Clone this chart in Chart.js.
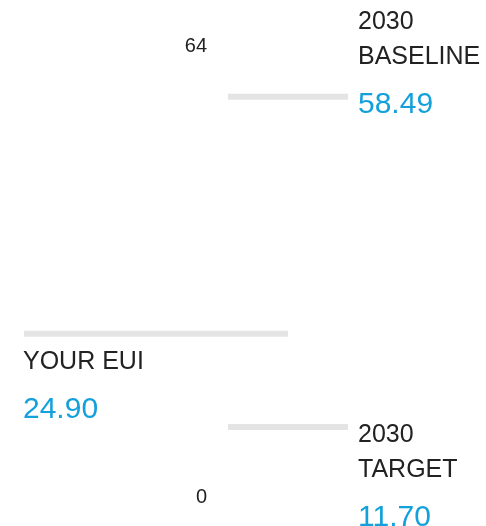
<!DOCTYPE html>
<html><head><meta charset="utf-8">
<script src="https://cdn.jsdelivr.net/npm/chart.js@4/dist/chart.umd.min.js"></script>
<style>html,body{margin:0;padding:0;background:#fff}#wrap{width:486px;height:526px;position:relative}</style>
</head><body><div id="wrap"><canvas id="c"></canvas></div>
<script>
// ---- data ----
const markerNames = ['2030 BASELINE', 'YOUR EUI', '2030 TARGET'];
const markerLines = [['2030', 'BASELINE'], ['YOUR EUI'], ['2030', 'TARGET']];
const markerValues = [58.49, 24.90, 11.70];
const valueLabels = ['58.49', '24.90', '11.70'];
const axisTicks = [0, 64];

// ---- layout / style (not data) ----
const FONT = "'Liberation Sans', Arial, sans-serif";
const layoutCfg = [
  {x0: 228, x1: 348, textX: 358, firstOffset: -68},
  {x0: 24,  x1: 288, textX: 23,  firstOffset: 35},
  {x0: 228, x1: 348, textX: 358, firstOffset: 15}
];
const LINE_GAP = 35, VALUE_GAP = 49;

const labelPlugin = {
  id: 'markerLabels',
  afterDatasetsDraw(chart) {
    const ctx = chart.ctx, ys = chart.scales.y;
    ctx.save();
    ctx.textBaseline = 'alphabetic';
    ctx.textAlign = 'left';
    markerValues.forEach((v, i) => {
      const py = ys.getPixelForValue(v);
      const cfg = layoutCfg[i];
      let y = py + cfg.firstOffset;
      ctx.font = '25px ' + FONT;
      ctx.fillStyle = '#222222';
      markerLines[i].forEach((t, k) => {
        if (k > 0) y += LINE_GAP;
        ctx.fillText(t, cfg.textX, y);
      });
      y += VALUE_GAP;
      ctx.font = '30px ' + FONT;
      ctx.fillStyle = '#13a0db';
      ctx.fillText(valueLabels[i], cfg.textX, y);
    });
    ctx.restore();
  }
};

new Chart(document.getElementById('c'), {
  type: 'line',
  data: {
    datasets: markerValues.map((v, i) => ({
      label: markerNames[i],
      data: [{x: layoutCfg[i].x0, y: v}, {x: layoutCfg[i].x1, y: v}],
      borderColor: '#e4e4e4',
      borderWidth: 6,
      borderCapStyle: 'butt',
      pointRadius: 0,
      fill: false,
      clip: false
    }))
  },
  options: {
    responsive: true,
    maintainAspectRatio: false,
    animation: false,
    layout: {padding: {top: 58, bottom: 16.5, left: 0, right: 0}},
    plugins: {legend: {display: false}, tooltip: {enabled: false}},
    scales: {
      x: {type: 'linear', min: 215, max: 486, display: false},
      y: {
        type: 'linear', min: 0, max: 64,
        grid: {display: false}, border: {display: false},
        afterBuildTicks: s => { s.ticks = axisTicks.map(v => ({value: v})); },
        afterFit: s => { s.width = 215; },
        ticks: {
          color: '#222222', padding: 0, labelOffset: -12,
          font: {family: FONT, size: 20}
        }
      }
    }
  },
  plugins: [labelPlugin]
});
</script></body></html>
